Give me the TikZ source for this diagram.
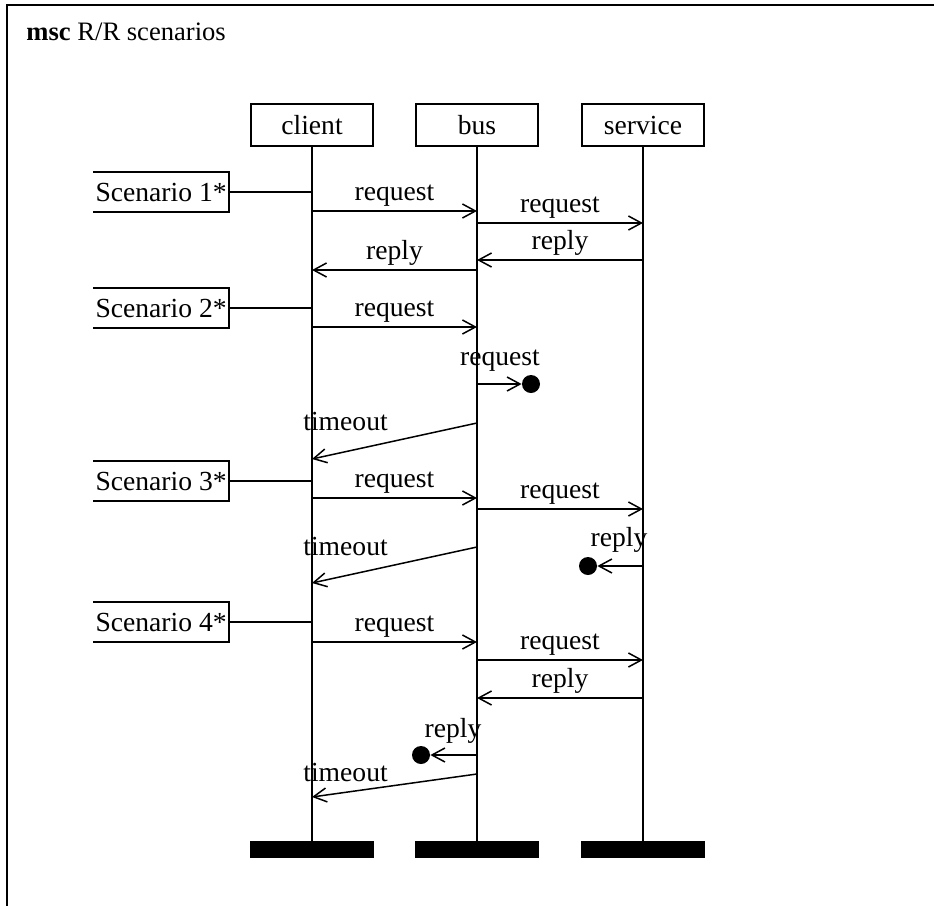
\documentclass[tikz,border=0pt]{standalone}
\usepackage{fontspec}
\setmainfont{Liberation Serif}
\usetikzlibrary{arrows.meta}
\begin{document}
\begin{tikzpicture}[x=0.5pt,y=-0.5pt,
  font=\fontsize{13.8}{16}\selectfont,
  head/.style={draw, line width=0.8pt, minimum width=61pt, minimum height=21pt, inner sep=0pt},
  endbar/.style={fill=black, minimum width=62pt, minimum height=8.5pt, inner sep=0pt},
  life/.style={line width=0.9pt},
  msg/.style={line width=0.75pt, -{Straight Barb[length=6.5pt,width=7pt]}},
  lbl/.style={inner sep=0pt, anchor=base, yshift=5.5pt},
  freelbl/.style={inner sep=0pt},
  lost/.style={circle, fill=black, minimum size=9pt, inner sep=0pt},
  scen/.style={inner xsep=1pt, inner ysep=0pt, minimum height=19.5pt, anchor=east},
  scline/.style={line width=0.8pt}]
\useasboundingbox (0,0) rectangle (934,906);
% frame
\draw[line width=1pt] (934,5) -- (7,5) -- (7,906);
\node[anchor=base west, inner sep=0pt, font=\fontsize{13.3}{16}\selectfont] (title) at (26,40) {\textbf{msc} R/R scenarios};

% instance heads
\node[head] (client) at (312,125) {client};
\node[head] (bus) at (477,125) {bus};
\node[head] (service) at (643,125) {service};

% end bars
\node[endbar] (cend) at (312,849.5) {};
\node[endbar] (bend) at (477,849.5) {};
\node[endbar] (send) at (643,849.5) {};

% lifelines
\draw[life] (client.south) -- (cend.north);
\draw[life] (bus.south) -- (bend.north);
\draw[life] (service.south) -- (send.north);

% scenario references
\foreach \n/\y/\t in {s1/192/1, s2/308/2, s3/481/3, s4/622/4}{
  \node[scen] (\n) at (229,\y) {Scenario \t*};
  \coordinate (\n c) at (312,\y);
  \draw[scline] (\n.north west) -- (\n.north east) -- (\n.south east) -- (\n.south west);
  \draw[scline] (\n.east) -- (\n c);
}

% scenario 1
\coordinate (c1) at (312,211); \coordinate (b1) at (477,211);
\draw[msg] (c1) -- (b1) node[midway, lbl] {request};
\coordinate (b2) at (477,223); \coordinate (s2) at (643,223);
\draw[msg] (b2) -- (s2) node[midway, lbl] {request};
\coordinate (s3) at (643,260); \coordinate (b3) at (477,260);
\draw[msg] (s3) -- (b3) node[midway, lbl] {reply};
\coordinate (b4) at (477,270); \coordinate (c4) at (312,270);
\draw[msg] (b4) -- (c4) node[midway, lbl] {reply};

% scenario 2
\coordinate (c5) at (312,327); \coordinate (b5) at (477,327);
\draw[msg] (c5) -- (b5) node[midway, lbl] {request};
\coordinate (b6) at (477,384);
\node[lost] (d1) at (531,384) {};
\draw[msg] (b6) -- (d1.west);
\node[freelbl, anchor=base] (l6) at (500,365) {request};
\coordinate (b7) at (477,423); \coordinate (c7) at (312,459);
\draw[msg] (b7) -- (c7);
\node[freelbl, anchor=base west] (l7) at (303,430) {timeout};

% scenario 3
\coordinate (c8) at (312,498); \coordinate (b8) at (477,498);
\draw[msg] (c8) -- (b8) node[midway, lbl] {request};
\coordinate (b9) at (477,509); \coordinate (s9) at (643,509);
\draw[msg] (b9) -- (s9) node[midway, lbl] {request};
\coordinate (b10) at (477,547); \coordinate (c10) at (312,583);
\draw[msg] (b10) -- (c10);
\node[freelbl, anchor=base west] (l10) at (303,555) {timeout};
\coordinate (s11) at (643,566);
\node[lost] (d2) at (588,566) {};
\draw[msg] (s11) -- (d2.east);
\node[freelbl, anchor=base] (l11) at (619,546) {reply};

% scenario 4
\coordinate (c12) at (312,642); \coordinate (b12) at (477,642);
\draw[msg] (c12) -- (b12) node[midway, lbl] {request};
\coordinate (b13) at (477,660); \coordinate (s13) at (643,660);
\draw[msg] (b13) -- (s13) node[midway, lbl] {request};
\coordinate (s14) at (643,698); \coordinate (b14) at (477,698);
\draw[msg] (s14) -- (b14) node[midway, lbl] {reply};
\coordinate (b15) at (477,755);
\node[lost] (d3) at (421,755) {};
\draw[msg] (b15) -- (d3.east);
\node[freelbl, anchor=base] (l15) at (453,737) {reply};
\coordinate (b16) at (477,774); \coordinate (c16) at (312,797);
\draw[msg] (b16) -- (c16);
\node[freelbl, anchor=base west] (l16) at (303,781) {timeout};
\end{tikzpicture}
\end{document}
